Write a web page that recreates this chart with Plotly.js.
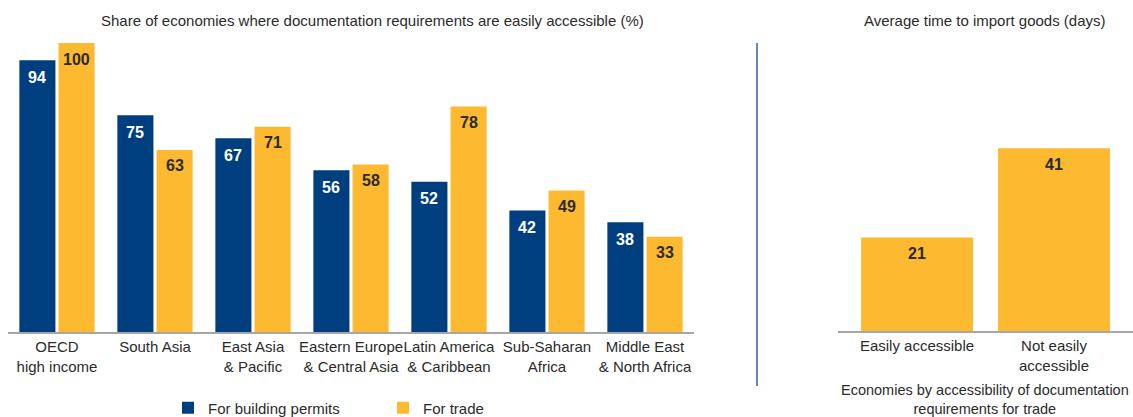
<!DOCTYPE html>
<html>
<head>
<meta charset="utf-8">
<script src="https://cdn.plot.ly/plotly-3.0.1.min.js"></script>
<style>html,body{margin:0;padding:0;background:#fff;}#chart{width:1133px;height:417px;}</style>
</head>
<body>
<div id="chart"></div>
<script>
// ---- data ----
const regions = ["OECD<br>high income", "South Asia", "East Asia<br>& Pacific", "Eastern Europe<br>& Central Asia", "Latin America<br>& Caribbean", "Sub-Saharan<br>Africa", "Middle East<br>& North Africa"];
const buildingPermits = [94, 75, 67, 56, 52, 42, 38];
const trade = [100, 63, 71, 58, 78, 49, 33];
const accessCategories = ["Easily accessible", "Not easily<br>accessible"];
const importDays = [21, 41];
const seriesNames = ["For building permits", "For trade"];

const BLUE = "#003f7f";
const YELLOW = "#fdb92f";
const FONT = "Liberation Sans, Arial, sans-serif";
const TXT = "#2b2b2b";
const W = 1133, H = 417;

const traces = [
  {type: "bar", x: regions, y: buildingPermits, name: seriesNames[0], marker: {color: BLUE}, xaxis: "x", yaxis: "y", hoverinfo: "none"},
  {type: "bar", x: regions, y: trade, name: seriesNames[1], marker: {color: YELLOW}, xaxis: "x", yaxis: "y", hoverinfo: "none"},
  {type: "bar", x: accessCategories, y: importDays, name: "days", marker: {color: YELLOW}, xaxis: "x2", yaxis: "y2", showlegend: false, hoverinfo: "none", width: 0.817}
];

// value labels as annotations
const annotations = [];
const slot = (1 - 0.2) / 2;
regions.forEach((r, i) => {
  annotations.push({xref: "x", yref: "y", x: i - slot / 2, y: buildingPermits[i], text: "<b>" + buildingPermits[i] + "</b>", showarrow: false, yshift: -17, font: {family: FONT, size: 16, color: "#ffffff"}});
  annotations.push({xref: "x", yref: "y", x: i + slot / 2, y: trade[i], text: "<b>" + trade[i] + "</b>", showarrow: false, yshift: -16, font: {family: FONT, size: 16, color: TXT}});
});
accessCategories.forEach((c, i) => {
  annotations.push({xref: "x2", yref: "y2", x: i, y: importDays[i], text: "<b>" + importDays[i] + "</b>", showarrow: false, yshift: -16, font: {family: FONT, size: 16, color: TXT}});
});
// titles
annotations.push({xref: "paper", yref: "paper", x: 372 / W, y: 1 - 20 / H, text: "Share of economies where documentation requirements are easily accessible (%)", showarrow: false, xanchor: "center", yanchor: "middle", font: {family: FONT, size: 15, color: TXT}});
annotations.push({xref: "paper", yref: "paper", x: 985 / W, y: 1 - 20 / H, text: "Average time to import goods (days)", showarrow: false, xanchor: "center", yanchor: "middle", font: {family: FONT, size: 15, color: TXT}});
annotations.push({xref: "paper", yref: "paper", x: 985 / W, y: 1 - 399 / H, text: "Economies by accessibility of documentation<br>requirements for trade", showarrow: false, xanchor: "center", yanchor: "middle", font: {family: FONT, size: 14.5, color: TXT}});

const tickCommon = {showline: true, linecolor: "#a6a6a6", linewidth: 2, ticks: "", showgrid: false, zeroline: false, tickangle: 0, tickfont: {family: FONT, size: 15, color: TXT}, fixedrange: true, automargin: false};

const layout = {
  width: W, height: H,
  margin: {l: 0, r: 0, t: 0, b: 0, pad: 0, autoexpand: false},
  paper_bgcolor: "#ffffff", plot_bgcolor: "#ffffff",
  font: {family: FONT, size: 15, color: TXT},
  barmode: "group", bargap: 0.2, bargroupgap: 0.08,
  showlegend: true,
  legend: {orientation: "h", x: 168 / W, y: 1 - 408 / H, xanchor: "left", yanchor: "middle", font: {family: FONT, size: 15, color: TXT}, entrywidth: 170, entrywidthmode: "pixels", itemclick: false, itemdoubleclick: false, traceorder: "normal"},
  xaxis: Object.assign({domain: [8 / W, 694 / W]}, tickCommon),
  yaxis: {domain: [85 / H, 374 / H], range: [0, 100], visible: false, fixedrange: true},
  xaxis2: Object.assign({domain: [838 / W, 1], range: [-0.577, 1.577], anchor: "y2"}, tickCommon),
  yaxis2: {domain: [86 / H, 374 / H], range: [0, 64.6], visible: false, anchor: "x2", fixedrange: true},
  annotations: annotations,
  shapes: [
    {type: "line", xref: "paper", yref: "paper", x0: 757 / W, x1: 757 / W, y0: 1 - 43 / H, y1: 1 - 386 / H, line: {color: "#2f5f9a", width: 1.5}}
  ]
};

Plotly.newPlot("chart", traces, layout, {displayModeBar: false, staticPlot: true});
</script>
</body>
</html>
